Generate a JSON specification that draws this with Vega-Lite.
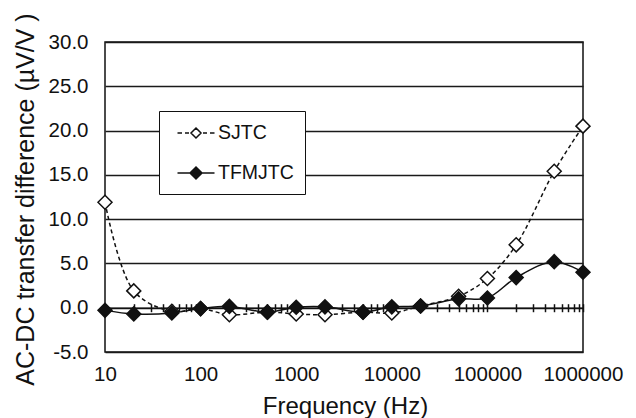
{
  "$schema": "https://vega.github.io/schema/vega-lite/v6.json",
  "width": 478,
  "height": 310,
  "autosize": {"type": "none"},
  "padding": {"left": 105, "top": 42, "right": 53, "bottom": 66},
  "background": "white",
  "config": {
    "font": "Liberation Sans",
    "view": {"stroke": "#111", "strokeWidth": 1.5},
    "axis": {"labelColor": "#111", "titleColor": "#111", "titleFontWeight": "normal", "labelFont": "Liberation Sans", "titleFont": "Liberation Sans"},
    "legend": {"symbolType": {"expr": "datum.value === 'SJTC' ? 'M-1.85,0H-1.4M-1.1,0H-0.7M0.7,0H1.1M1.4,0H1.85M0,-0.5L0.5,0L0,0.5L-0.5,0Z' : 'M-1.85,0H1.85M0,-0.6L0.6,0L0,0.6L-0.6,0Z'"}}
  },
  "data": {
    "values": [
      {"series": "SJTC", "freq": 10, "value": 11.9},
      {"series": "SJTC", "freq": 20, "value": 1.9},
      {"series": "SJTC", "freq": 50, "value": -0.4},
      {"series": "SJTC", "freq": 100, "value": -0.1},
      {"series": "SJTC", "freq": 200, "value": -0.8},
      {"series": "SJTC", "freq": 500, "value": -0.5},
      {"series": "SJTC", "freq": 1000, "value": -0.7},
      {"series": "SJTC", "freq": 2000, "value": -0.8},
      {"series": "SJTC", "freq": 5000, "value": -0.5},
      {"series": "SJTC", "freq": 10000, "value": -0.6},
      {"series": "SJTC", "freq": 20000, "value": 0.2},
      {"series": "SJTC", "freq": 50000, "value": 1.3},
      {"series": "SJTC", "freq": 100000, "value": 3.3},
      {"series": "SJTC", "freq": 200000, "value": 7.1},
      {"series": "SJTC", "freq": 500000, "value": 15.4},
      {"series": "SJTC", "freq": 1000000, "value": 20.5},
      {"series": "TFMJTC", "freq": 10, "value": -0.3},
      {"series": "TFMJTC", "freq": 20, "value": -0.7},
      {"series": "TFMJTC", "freq": 50, "value": -0.6},
      {"series": "TFMJTC", "freq": 100, "value": -0.1},
      {"series": "TFMJTC", "freq": 200, "value": 0.15},
      {"series": "TFMJTC", "freq": 500, "value": -0.5},
      {"series": "TFMJTC", "freq": 1000, "value": 0.05},
      {"series": "TFMJTC", "freq": 2000, "value": 0.1},
      {"series": "TFMJTC", "freq": 5000, "value": -0.5},
      {"series": "TFMJTC", "freq": 10000, "value": 0.1},
      {"series": "TFMJTC", "freq": 20000, "value": 0.2},
      {"series": "TFMJTC", "freq": 50000, "value": 1.0},
      {"series": "TFMJTC", "freq": 100000, "value": 1.1},
      {"series": "TFMJTC", "freq": 200000, "value": 3.4},
      {"series": "TFMJTC", "freq": 500000, "value": 5.2},
      {"series": "TFMJTC", "freq": 1000000, "value": 4.0}
    ]
  },
  "layer": [
    {
      "transform": [{"filter": "datum.series === 'SJTC'"}],
      "mark": {"type": "line", "interpolate": "catmull-rom", "color": "#111", "strokeWidth": 1.5, "strokeDash": [4, 3]},
      "encoding": {
        "x": {
          "field": "freq", "type": "quantitative",
          "scale": {"type": "log", "domain": [10, 1000000], "nice": false},
          "axis": {
            "orient": "bottom",
            "values": [10, 100, 1000, 10000, 100000, 1000000],
            "format": "d",
            "ticks": false, "tickSize": 0, "domain": false, "grid": false,
            "labelFontSize": 20.5, "labelPadding": 28, "labelBaseline": "alphabetic",
            "labelFlush": false, "labelOverlap": false,
            "title": "Frequency (Hz)", "titleFontSize": 24,
            "titleBaseline": "alphabetic", "titleY": 61, "titleX": 240, "titleAlign": "center"
          }
        },
        "y": {
          "field": "value", "type": "quantitative",
          "scale": {"domain": [-5, 30], "nice": false, "zero": false},
          "axis": {
            "values": [-5, 0, 5, 10, 15, 20, 25, 30],
            "labelExpr": "replace(format(datum.value, '.1f'), '\u2212', '-')",
            "ticks": false, "tickSize": 0, "domain": false,
            "grid": true, "gridColor": "#1a1a1a", "gridWidth": 1.5,
            "labelFontSize": 20.5, "labelPadding": 17, "labelFlush": false,
            "title": "AC-DC transfer difference (µV/V )", "titleFontSize": 25,
            "titleAngle": -90, "titleBaseline": "alphabetic", "titleAlign": "center",
            "titleX": -72, "titleY": 157
          }
        }
      }
    },
    {
      "transform": [{"filter": "datum.series === 'SJTC'"}],
      "mark": {"type": "point", "filled": true, "size": 196, "stroke": "#111", "strokeWidth": 1.5, "opacity": 1},
      "encoding": {
        "x": {
          "field": "freq", "type": "quantitative",
          "scale": {"type": "log", "domain": [10, 1000000], "nice": false},
          "axis": {
            "orient": "bottom", "offset": -44.286,
            "values": [10, 20, 30, 40, 50, 60, 70, 80, 90, 100, 200, 300, 400, 500, 600, 700, 800, 900, 1000, 2000, 3000, 4000, 5000, 6000, 7000, 8000, 9000, 10000, 20000, 30000, 40000, 50000, 60000, 70000, 80000, 90000, 100000, 200000, 300000, 400000, 500000, 600000, 700000, 800000, 900000, 1000000],
            "labels": false, "title": null, "grid": false,
            "domain": true, "domainColor": "#111", "domainWidth": 1.5,
            "ticks": true, "tickSize": 4, "tickColor": "#111", "tickWidth": 1.5, "zindex": 0
          }
        },
        "y": {"field": "value", "type": "quantitative", "scale": {"domain": [-5, 30], "nice": false, "zero": false}, "axis": null},
        "shape": {"value": "diamond"},
        "fill": {
          "field": "series", "type": "nominal",
          "scale": {"domain": ["SJTC", "TFMJTC"], "range": ["white", "#111"]},
          "legend": {
            "orient": "none", "legendX": 54, "legendY": 69, "title": null,
            "fillColor": "white", "strokeColor": "#111",
            "padding": 11, "rowPadding": 19,
            "symbolSize": 400, "symbolOffset": 15, "labelOffset": 11,
            "symbolStrokeColor": "#111", "symbolStrokeWidth": 1.5,
            "labelFontSize": 19.5, "labelColor": "#111", "labelFont": "Liberation Sans"
          }
        }
      }
    },
    {
      "transform": [{"filter": "datum.series === 'TFMJTC'"}],
      "mark": {"type": "line", "interpolate": "catmull-rom", "color": "#111", "strokeWidth": 1.5},
      "encoding": {
        "x": {
          "field": "freq", "type": "quantitative",
          "scale": {"type": "log", "domain": [10, 1000000], "nice": false},
          "axis": {
            "orient": "top", "offset": -265.714,
            "values": [10, 20, 30, 40, 50, 60, 70, 80, 90, 100, 200, 300, 400, 500, 600, 700, 800, 900, 1000, 2000, 3000, 4000, 5000, 6000, 7000, 8000, 9000, 10000, 20000, 30000, 40000, 50000, 60000, 70000, 80000, 90000, 100000, 200000, 300000, 400000, 500000, 600000, 700000, 800000, 900000, 1000000],
            "labels": false, "title": null, "grid": false, "domain": false,
            "ticks": true, "tickSize": 4, "tickColor": "#111", "tickWidth": 1.5, "zindex": 0
          }
        },
        "y": {"field": "value", "type": "quantitative", "scale": {"domain": [-5, 30], "nice": false, "zero": false}, "axis": null}
      }
    },
    {
      "transform": [{"filter": "datum.series === 'TFMJTC'"}],
      "mark": {"type": "point", "filled": true, "size": 196, "stroke": "#111", "strokeWidth": 1.5, "opacity": 1},
      "encoding": {
        "x": {"field": "freq", "type": "quantitative", "scale": {"type": "log", "domain": [10, 1000000], "nice": false}, "axis": null},
        "y": {"field": "value", "type": "quantitative", "scale": {"domain": [-5, 30], "nice": false, "zero": false}, "axis": null},
        "shape": {"value": "diamond"},
        "fill": {
          "field": "series", "type": "nominal",
          "scale": {"domain": ["SJTC", "TFMJTC"], "range": ["white", "#111"]},
          "legend": {
            "orient": "none", "legendX": 54, "legendY": 69, "title": null,
            "fillColor": "white", "strokeColor": "#111",
            "padding": 11, "rowPadding": 19,
            "symbolSize": 400, "symbolOffset": 15, "labelOffset": 11,
            "symbolStrokeColor": "#111", "symbolStrokeWidth": 1.5,
            "labelFontSize": 19.5, "labelColor": "#111", "labelFont": "Liberation Sans"
          }
        }
      }
    }
  ],
  "resolve": {"axis": {"x": "independent", "y": "independent"}}
}
